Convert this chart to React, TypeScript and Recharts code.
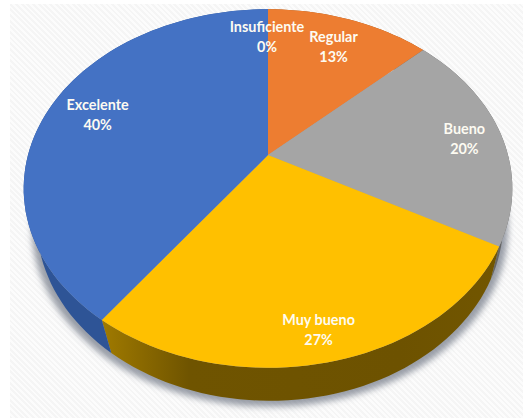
import { Pie, PieChart } from "recharts";

const categories = ["Insuficiente", "Regular", "Bueno", "Muy bueno", "Excelente"];
const shares = [0, 13, 20, 27, 40];
const topColors = ["#5b9bd5", "#ed7d31", "#a5a5a5", "#ffc000", "#4472c4"];
const wallColors = ["#2f5597", "#9c5218", "#666666", "url(#wallGold)", "#2e5496"];

const tableData = categories.map((name, i) => ({ name, value: shares[i] }));

// tilted disc: the rim of a unit circle pushed through a perspective divide
const APEX_X = 268;
const APEX_Y = 155;
const RX = 240;
const RY = 173;
const TILT = 0.187;
const DEPTH = 33;
const WALL_SHRINK = 0.955;
const WALL_SHIFT = 2;

const labelNudge: Record<string, [number, number]> = {
  Insuficiente: [-1, 0],
  Regular: [0, 1],
  Bueno: [14, 1],
  "Muy bueno": [3, 21],
  Excelente: [0, 0],
};

function project(deg: number, r = 1) {
  const rad = (deg * Math.PI) / 180;
  const u = Math.cos(rad) * r;
  const v = -Math.sin(rad) * r;
  const w = 1 - TILT * v;
  return [APEX_X + (RX * u) / w, APEX_Y + (RY * v) / w];
}

function rim(from: number, to: number) {
  const steps = Math.max(2, Math.ceil(Math.abs(to - from) / 2));
  const pts: number[][] = [];
  for (let i = 0; i <= steps; i++) {
    pts.push(project(from + ((to - from) * i) / steps));
  }
  return pts;
}

const toPath = (pts: number[][]) =>
  pts.map((p, i) => `${i ? "L" : "M"}${p[0].toFixed(1)} ${p[1].toFixed(1)}`).join(" ");

function TopFace(props: any) {
  const { startAngle, endAngle, index } = props;
  if (startAngle === endAngle) return <g />;
  const d = `${toPath(rim(startAngle, endAngle))} L${APEX_X} ${APEX_Y} Z`;
  return <path d={d} fill={topColors[index]} />;
}

function SideWall(props: any) {
  const { startAngle, endAngle, index } = props;
  if (startAngle === endAngle) return <g />;
  const upper = rim(startAngle, endAngle);
  const lower = upper
    .map(([x, y]) => [APEX_X + WALL_SHIFT + (x - APEX_X) * WALL_SHRINK, y + DEPTH])
    .reverse();
  return <path d={`${toPath(upper)} ${toPath(lower).replace("M", "L")} Z`} fill={wallColors[index]} />;
}

function ShareLabel(props: any) {
  const { midAngle, name, value } = props;
  const [nx, ny] = labelNudge[name];
  const [x, y] = project(midAngle, 0.78);
  return (
    <text
      x={x + nx}
      y={y + ny}
      textAnchor="middle"
      fill="#fdfbf2"
      fontFamily="Lato, sans-serif"
      fontWeight={700}
      fontSize={14.4}
    >
      <tspan x={x + nx} dy={-5}>{name}</tspan>
      <tspan x={x + nx} dy={20}>{`${value}%`}</tspan>
    </text>
  );
}

export default function App() {
  // soft drop shadow under the lower rim
  const shadow = rim(90, -270).map(([x, y]) => [APEX_X + 2 + (x - APEX_X) * 0.975, y + DEPTH + 6]);
  return (
    <div style={{ position: "absolute", left: 0, top: 0, width: 523, height: 418, background: "#ffffff", overflow: "hidden" }}>
      <div
        style={{
          position: "absolute",
          left: 10,
          top: 4,
          width: 513,
          height: 414,
          background: "repeating-linear-gradient(45deg, #f5f5f5 0px, #f5f5f5 2px, #fcfcfc 2px, #fcfcfc 4px)",
        }}
      />
      <PieChart width={523} height={418} style={{ position: "absolute", left: 0, top: 0 }}>
        <defs>
          <linearGradient id="wallGold" x1="0" y1="0" x2="1" y2="0">
            <stop offset="0" stopColor="#a07a00" />
            <stop offset="0.22" stopColor="#6f5400" />
            <stop offset="0.75" stopColor="#6d5200" />
            <stop offset="1" stopColor="#725600" />
          </linearGradient>
          <filter id="softShadow" x="-10%" y="-10%" width="120%" height="120%">
            <feGaussianBlur stdDeviation="3" />
          </filter>
        </defs>
        <path d={`${toPath(shadow)} Z`} fill="#6f7784" fillOpacity={0.7} filter="url(#softShadow)" />
        <Pie
          data={tableData}
          dataKey="value"
          nameKey="name"
          cx={APEX_X}
          cy={APEX_Y}
          outerRadius={RX}
          startAngle={90}
          endAngle={-270}
          stroke="none"
          shape={SideWall}
          label={false}
          labelLine={false}
          isAnimationActive={false}
        />
        <Pie
          data={tableData}
          dataKey="value"
          nameKey="name"
          cx={APEX_X}
          cy={APEX_Y}
          outerRadius={RX}
          startAngle={90}
          endAngle={-270}
          stroke="none"
          shape={TopFace}
          label={ShareLabel}
          labelLine={false}
          isAnimationActive={false}
        />
      </PieChart>
    </div>
  );
}
